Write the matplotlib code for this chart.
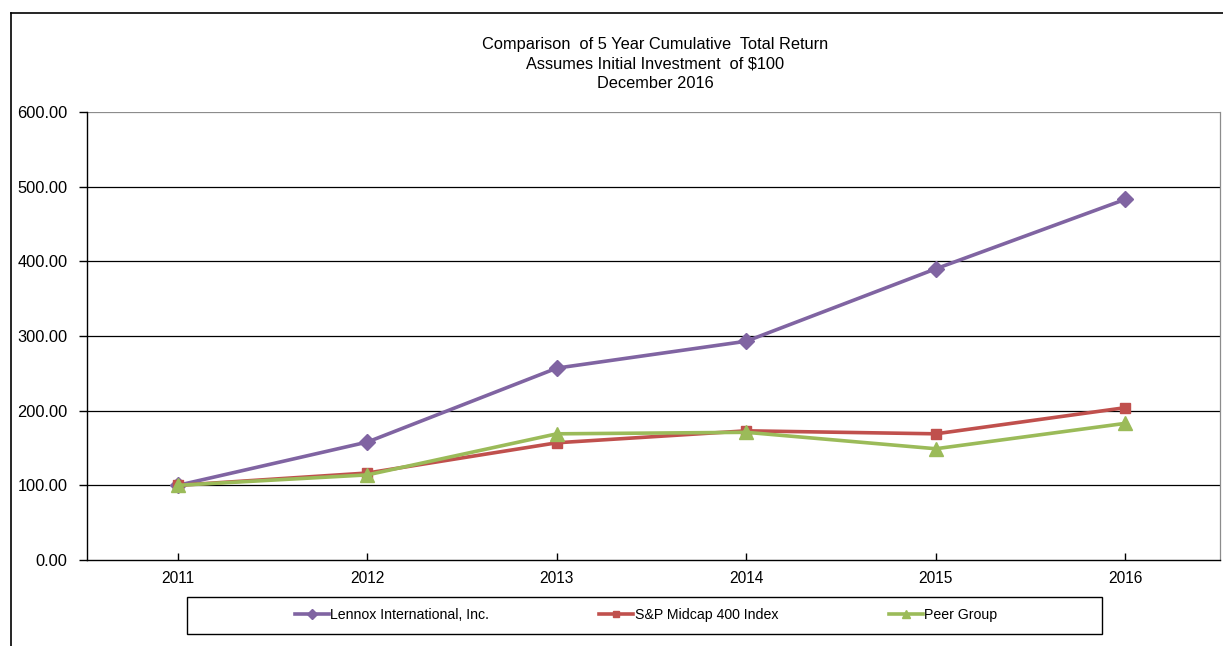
import matplotlib
matplotlib.use("Agg")
from matplotlib import pyplot as plt
from matplotlib.lines import Line2D
from matplotlib.patches import Rectangle

plt.rcParams["font.family"] = ["Liberation Sans", "DejaVu Sans"]

# Data
years = ["2011", "2012", "2013", "2014", "2015", "2016"]
lennox = [100.00, 158.00, 257.00, 293.00, 390.00, 483.00]
sp_midcap = [100.00, 116.50, 157.00, 173.00, 169.00, 204.00]
peer_group = [100.00, 114.00, 169.00, 171.00, 149.00, 183.00]

series = [
    ("Lennox International, Inc.", lennox, "#8064A2", "D", 8.5),
    ("S&P Midcap 400 Index", sp_midcap, "#C0504D", "s", 7.5),
    ("Peer Group", peer_group, "#9BBB59", "^", 9.5),
]

W, H = 1223, 646
fig = plt.figure(figsize=(W / 100, H / 100), dpi=100)

# Plot area in pixels: left 87, right 1220, top 112, bottom 560
ax = fig.add_axes([87 / W, 1 - 560 / H, (1220 - 87) / W, (560 - 112) / H])

x = list(range(len(years)))
for label, values, color, marker, size in series:
    ax.plot(x, values, color=color, linewidth=2.6, marker=marker,
            markersize=size, label=label, zorder=3)

ax.set_ylim(0, 600)
ax.set_xlim(-0.48, 5.5)
ax.set_yticks(range(0, 601, 100))
ax.set_yticklabels([f"{v:.2f}" for v in range(0, 601, 100)])
ax.set_xticks(x)
ax.set_xticklabels(years)

for v in range(100, 600, 100):
    ax.axhline(v, color="black", linewidth=0.9, zorder=1)
ax.axhline(600, color="#8c8c8c", linewidth=0.9, zorder=1)

for side in ("top", "right"):
    ax.spines[side].set_color("#8c8c8c")
    ax.spines[side].set_linewidth(0.9)
for side in ("left", "bottom"):
    ax.spines[side].set_color("black")
    ax.spines[side].set_linewidth(1.0)
ax.spines["top"].set_visible(False)

ax.tick_params(axis="y", direction="out", length=6, width=1, labelsize=11.8,
               pad=8)
ax.tick_params(axis="x", direction="in", length=5, width=1, labelsize=11.2,
               pad=8)

# Title
fig.text(655 / W, 1 - 64 / H,
         "Comparison  of 5 Year Cumulative  Total Return\n"
         "Assumes Initial Investment  of $100\nDecember 2016",
         ha="center", va="center", fontsize=11.8, linespacing=1.38)

# Outer frame (clipped on right and bottom)
fig.add_artist(Line2D([11 / W, 1.0], [1 - 13 / H, 1 - 13 / H],
                      transform=fig.transFigure, color="black", linewidth=1.2))
fig.add_artist(Line2D([11 / W, 11 / W], [0.0, 1 - 13 / H],
                      transform=fig.transFigure, color="black", linewidth=1.2))

# Legend box
fig.add_artist(Rectangle((187 / W, 1 - 634 / H), (1102 - 187) / W,
                         (634 - 597) / H, transform=fig.transFigure,
                         fill=False, edgecolor="black", linewidth=1.0))
handles, labels = ax.get_legend_handles_labels()
leg = fig.legend(handles, labels, loc="center",
                 bbox_to_anchor=(646 / W, 1 - 615 / H), ncol=3,
                 frameon=False, handlelength=2.4, handletextpad=0.1,
                 columnspacing=7.8, markerscale=0.55,
                 prop={"family": ["Liberation Sans Narrow", "Liberation Sans",
                                  "DejaVu Sans"], "size": 10.2})

fig.savefig("out.png", dpi=100)
